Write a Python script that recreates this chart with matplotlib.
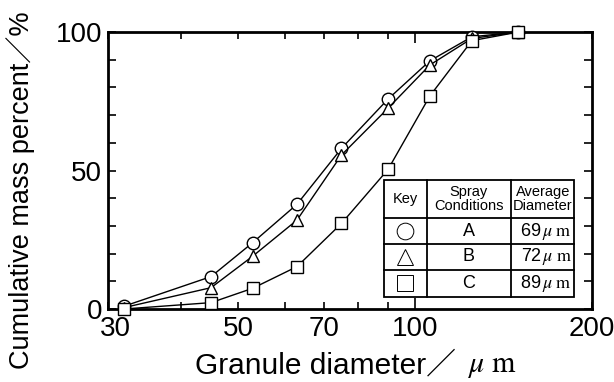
import matplotlib
matplotlib.use('Agg')
import matplotlib.pyplot as plt
from matplotlib.ticker import FixedLocator, FixedFormatter, NullFormatter
from matplotlib.patches import Rectangle
from matplotlib.lines import Line2D
from matplotlib.transforms import ScaledTranslation

plt.rcParams['font.family'] = ['Liberation Sans', 'Noto Sans CJK JP', 'DejaVu Sans']
plt.rcParams['mathtext.fontset'] = 'stix'

# sieve sizes (um) and cumulative mass (%)
diam = [32, 45, 53, 63, 75, 90, 106, 125, 150]
cum_a = [1, 11.7, 24, 37.8, 58, 75.8, 89.6, 98.3, 100]
cum_b = [0.5, 7.7, 19.1, 32.1, 55.6, 72.5, 88.1, 97.7, 100]
cum_c = [0, 2.3, 7.5, 15.3, 30.9, 50.4, 76.9, 96.9, 100]

keys = ['o', '^', 's']
conditions = ['A', 'B', 'C']
avg_diam = [69, 72, 89]

fig = plt.figure(figsize=(6.14, 3.82), dpi=100)
ax = fig.add_axes([0.1751, 0.1911, 0.789, 0.725])

for y, m in zip([cum_a, cum_b, cum_c], keys):
    ax.plot(diam, y, color='black', lw=1.0, marker=m, ms=9 if m != 's' else 8.5,
            mfc='white', mec='black', mew=1.0, clip_on=False, zorder=3)

ax.set_xscale('log')
ax.set_xlim(30, 200)
ax.set_ylim(0, 100)

ax.xaxis.set_major_locator(FixedLocator([100]))
ax.xaxis.set_major_formatter(FixedFormatter(['100']))
minor_x = [30, 40, 50, 60, 70, 80, 90, 200]
ax.xaxis.set_minor_locator(FixedLocator(minor_x))
ax.xaxis.set_minor_formatter(FixedFormatter(['30', '', '50', '', '70', '', '', '200']))

ax.yaxis.set_major_locator(FixedLocator([0, 50, 100]))
ax.yaxis.set_minor_locator(FixedLocator(range(0, 101, 10)))
ax.yaxis.set_minor_formatter(NullFormatter())

ax.tick_params(which='both', direction='in', top=True, right=True, width=1.2,
               labelsize=20)
ax.tick_params(axis='x', which='major', length=8)
ax.tick_params(axis='x', which='minor', length=5)
ax.tick_params(axis='y', which='both', length=6)
ax.tick_params(axis='x', which='both', pad=5)
ax.tick_params(axis='y', which='both', pad=4)

for s in ax.spines.values():
    s.set_linewidth(2.0)

# nudge the "30" label right so it clears the "0"
lbl30 = ax.xaxis.get_minor_ticks(len(minor_x))[0].label1
lbl30.set_transform(lbl30.get_transform() + ScaledTranslation(6 / 72, 0, fig.dpi_scale_trans))

ax.set_xlabel('Granule diameter\uff0f', fontsize=21.5, ha='left')
ax.xaxis.set_label_coords(0.180, -0.155)
ax.annotate('$\\mu\\ \\mathrm{m}$', xy=(1, 0.5), xycoords=ax.xaxis.label,
            xytext=(9, 0), textcoords='offset points', ha='left', va='center',
            fontsize=21.5, annotation_clip=False)
ax.set_ylabel('Cumulative mass percent\uff0f%', fontsize=19.5)
ax.yaxis.set_label_coords(-0.150, 0.43)

# key table
x0, x1 = 0.571, 0.9635
c1, c2 = 0.659, 0.833
rows = [0.466, 0.327, 0.235, 0.141, 0.044]
tr = ax.transAxes
ax.add_patch(Rectangle((x0, rows[-1]), x1 - x0, rows[0] - rows[-1], transform=tr,
                       facecolor='white', edgecolor='black', lw=1.3, zorder=4))
for xc in [c1, c2]:
    ax.add_line(Line2D([xc, xc], [rows[-1], rows[0]], transform=tr, color='black', lw=1.3, zorder=5))
for yr in rows[1:-1]:
    ax.add_line(Line2D([x0, x1], [yr, yr], transform=tr, color='black', lw=1.3, zorder=5))

hy = (rows[0] + rows[1]) / 2
ax.text((x0 + c1) / 2, hy, 'Key', transform=tr, ha='center', va='center', fontsize=10.5, zorder=6)
ax.text((c1 + c2) / 2, hy, 'Spray\nConditions', transform=tr, ha='center', va='center',
        fontsize=10.5, linespacing=1.05, zorder=6)
ax.text((c2 + x1) / 2, hy, 'Average\nDiameter', transform=tr, ha='center', va='center',
        fontsize=10.5, linespacing=1.05, zorder=6)

for i, (m, cnd, d) in enumerate(zip(keys, conditions, avg_diam)):
    yc = (rows[i + 1] + rows[i + 2]) / 2
    ax.plot([(x0 + c1) / 2], [yc], transform=tr, marker=m, ms=12 if m != 's' else 11,
            mfc='white', mec='black', mew=0.7, ls='none', zorder=6, clip_on=False)
    ax.text((c1 + c2) / 2, yc, cnd, transform=tr, ha='center', va='center', fontsize=13, zorder=6)
    ax.text(x1 - 0.004, yc, f'{d}$\\,\\mu\\ \\mathrm{{m}}$', transform=tr, ha='right', va='center',
            fontsize=13, zorder=6)

fig.savefig('out.png', dpi=100)
